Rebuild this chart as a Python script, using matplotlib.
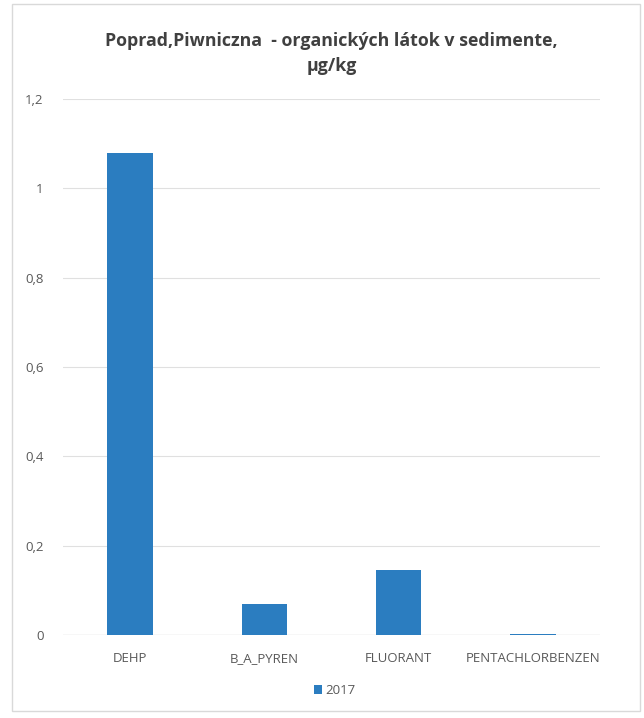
import matplotlib
matplotlib.use("Agg")
import matplotlib.pyplot as plt
from matplotlib.ticker import FuncFormatter

categories = ["DEHP", "B_A_PYREN", "FLUORANT", "PENTACHLORBENZEN"]
values_2017 = [1.08, 0.07, 0.145, 0.003]
yticks = [0, 0.2, 0.4, 0.6, 0.8, 1.0, 1.2]

plt.rcParams['font.family'] = ['Open Sans', 'DejaVu Sans']

fig = plt.figure(figsize=(6.44, 7.18), dpi=100)
ax = fig.add_axes([63 / 644, 1 - 635 / 718, 537 / 644, 536 / 718])

bar_color = "#2b7dc0"
ax.bar(range(len(categories)), values_2017, width=0.34, color=bar_color, label="2017", zorder=3)

ax.set_xlim(-0.5, len(categories) - 0.5)
ax.set_ylim(0, 1.2)
ax.set_yticks(yticks)
ax.yaxis.set_major_formatter(FuncFormatter(lambda v, p: f"{v:g}".replace(".", ",")))
ax.set_xticks(range(len(categories)))
ax.set_xticklabels(categories)
ax.tick_params(axis="both", length=0, labelsize=9.5, colors="#595959", pad=12)
ax.tick_params(axis="y", pad=14)
ax.grid(axis="y", color="#e0e0e0", linewidth=0.8, zorder=0)
for s in ax.spines.values():
    s.set_visible(False)
ax.axhline(0, color="#d0d0d0", linewidth=0.9, zorder=2)

fig.text(0.515, 0.925, "Poprad,Piwniczna  - organických látok v sedimente,\nµg/kg",
         ha="center", va="center", fontsize=12.8, fontweight="bold", color="#404040",
         linespacing=1.5)

fig.legend(loc="center", bbox_to_anchor=(0.52, 0.038), frameon=False, fontsize=9.5,
           labelcolor="#595959", handlelength=0.6, handleheight=0.6, handletextpad=0.3)

frame = plt.Rectangle((12 / 644, 0.01), 0.975, 0.985, transform=fig.transFigure,
                      fill=False, edgecolor="#d9d9d9", linewidth=1.0)
fig.patches.append(frame)

fig.savefig("out.png", dpi=100)
